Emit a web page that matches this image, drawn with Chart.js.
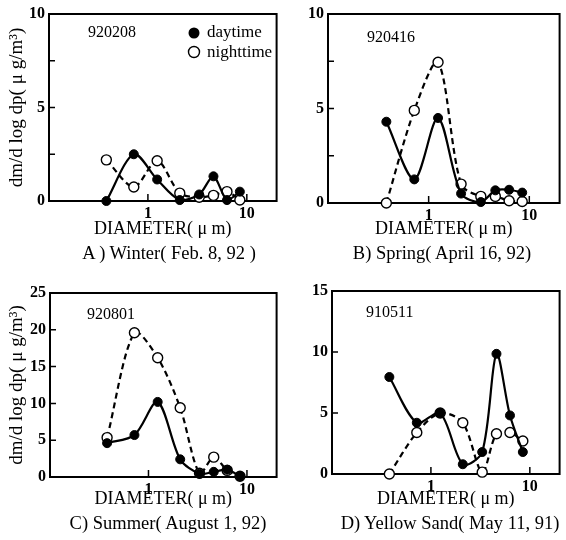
<!DOCTYPE html>
<html><head><meta charset="utf-8">
<script src="https://cdn.jsdelivr.net/npm/chart.js@4"></script>
<style>
body{margin:0;background:#fff;width:566px;height:540px;position:relative;overflow:hidden;font-family:"Liberation Serif",serif;color:#000;}
.panel{position:absolute;width:283px;height:270px;}
.panel canvas{position:absolute;left:0;top:0;}
.cap{position:absolute;width:283px;text-align:center;font-size:18.5px;line-height:20px;top:243px;white-space:pre;}
</style></head><body>
<div class="panel" style="left:0;top:0"><canvas id="c0" width="283" height="270"></canvas><div class="cap" id="cap0"></div></div>
<div class="panel" style="left:283px;top:0"><canvas id="c1" width="283" height="270"></canvas><div class="cap" id="cap1"></div></div>
<div class="panel" style="left:0;top:270px"><canvas id="c2" width="283" height="270"></canvas><div class="cap" id="cap2"></div></div>
<div class="panel" style="left:283px;top:270px"><canvas id="c3" width="283" height="270"></canvas><div class="cap" id="cap3"></div></div>
<script>
// ---- data ----
const diameters = [0.38, 0.72, 1.24, 2.1, 3.3, 4.6, 6.3, 8.5];
const winterDay = [0, 2.5, 1.15, 0.05, 0.35, 1.32, 0.05, 0.5];
const winterNight = [2.2, 0.75, 2.15, 0.42, 0.2, 0.3, 0.5, 0.05];
const springDay = [4.3, 1.25, 4.5, 0.5, 0.05, 0.67, 0.7, 0.55];
const springNight = [0, 4.9, 7.45, 1.0, 0.35, 0.35, 0.12, 0.08];
const summerDay = [4.6, 5.7, 10.2, 2.4, 0.45, 0.7, 1.0, 0.1];
const summerNight = [5.35, 19.6, 16.2, 9.4, 0.5, 2.7, 0.9, 0.1];
const sandDay = [7.95, 4.2, 5.0, 0.8, 1.8, 9.85, 4.8, 1.8];
const sandNight = [0, 3.4, 5.0, 4.2, 0.15, 3.3, 3.4, 2.7];
const sampleIds = ['920208', '920416', '920801', '910511'];
const captions = ['A ) Winter( Feb. 8, 92 )', 'B) Spring( April 16, 92)', 'C) Summer( August 1, 92)', 'D) Yellow Sand( May 11, 91)'];
const seriesNames = ['daytime', 'nighttime'];
const xTickValues = [1, 10];
const yMaxValues = [10, 10, 25, 15];
const yLabelTicks = [[0, 5, 10], [0, 5, 10], [0, 5, 10, 15, 20, 25], [0, 5, 10, 15]];
const yMarkTicks = [[2.5, 5, 7.5], [2.5, 5, 7.5], [5, 10, 15, 20], [5, 10]];
const xTitle = 'DIAMETER( \u03bc m)';
const yTitle = 'dm/d log dp( \u03bc g/m\u00b3)';

// ---- layout (plot box in panel-local pixels) ----
const geom = [
  {left: 49, top: 14, right: 280, bottom: 201, cap: 169, id: [88, 33]},
  {left: 45, top: 14, right: 278, bottom: 203, cap: 159, id: [84, 38]},
  {left: 50, top: 23, right: 279, bottom: 207, cap: 168, id: [87, 45]},
  {left: 49, top: 21, right: 278, bottom: 204, cap: 167, id: [83, 43]}
];
const FAM = '"Liberation Serif", "Times New Roman", serif';
const TITLE_BOTTOM = 240;

function framePlugin(i) {
  return {
    id: 'frame' + i,
    beforeDatasetsDraw(chart) {
      const {ctx, chartArea: a, scales} = chart;
      ctx.save();
      ctx.strokeStyle = '#000';
      ctx.lineWidth = 2;
      ctx.strokeRect(a.left, a.top, a.right - a.left, a.bottom - a.top);
      ctx.lineWidth = 1.5;
      ctx.beginPath();
      yMarkTicks[i].forEach(v => {
        const y = scales.y.getPixelForValue(v);
        ctx.moveTo(a.left, y); ctx.lineTo(a.left + 6, y);
      });
      xTickValues.forEach(v => {
        const x = scales.x.getPixelForValue(v);
        ctx.moveTo(x, a.bottom); ctx.lineTo(x, a.bottom - 7);
      });
      ctx.stroke();
      ctx.fillStyle = '#000';
      ctx.font = '16px ' + FAM;
      ctx.textAlign = 'left';
      ctx.textBaseline = 'middle';
      ctx.fillText(sampleIds[i], geom[i].id[0], geom[i].id[1]);
      if (i === 0) {
        ctx.font = '17px ' + FAM;
        ctx.beginPath(); ctx.arc(194, 33, 5.5, 0, Math.PI * 2); ctx.fill();
        ctx.beginPath(); ctx.arc(194, 52, 5.5, 0, Math.PI * 2);
        ctx.fillStyle = '#fff'; ctx.fill(); ctx.lineWidth = 1.4; ctx.stroke();
        ctx.fillStyle = '#000';
        ctx.fillText(seriesNames[0], 207, 33);
        ctx.fillText(seriesNames[1], 207, 53);
      }
      ctx.restore();
    }
  };
}

function makeChart(i, day, night) {
  const g = geom[i];
  const cap = document.getElementById('cap' + i);
  cap.textContent = captions[i];
  cap.style.left = (g.cap - 141.5) + 'px';
  return new Chart(document.getElementById('c' + i), {
    type: 'line',
    data: {
      datasets: [
        {
          label: seriesNames[0],
          data: diameters.map((x, k) => ({x: x, y: day[k]})),
          borderColor: '#000', backgroundColor: '#000',
          pointBackgroundColor: '#000', pointBorderColor: '#000',
          pointRadius: 4.5, pointBorderWidth: 1, borderWidth: 2.2,
          tension: 0.3, clip: false, fill: false
        },
        {
          label: seriesNames[1],
          data: diameters.map((x, k) => ({x: x, y: night[k]})),
          borderColor: '#000', backgroundColor: '#fff',
          pointBackgroundColor: '#fff', pointBorderColor: '#000',
          pointRadius: 5, pointBorderWidth: 1.4, borderWidth: 2.2,
          borderDash: [6, 4],
          tension: 0.3, clip: false, fill: false
        }
      ]
    },
    options: {
      animation: false, responsive: false, devicePixelRatio: 1,
      events: [],
      layout: {padding: {left: 0, top: g.top, right: 283 - g.right, bottom: 270 - TITLE_BOTTOM}},
      plugins: {legend: {display: false}, tooltip: {enabled: false}, title: {display: false}},
      scales: {
        x: {
          type: 'logarithmic', min: 0.1, max: 20, position: 'bottom',
          afterFit: s => { s.height = TITLE_BOTTOM - g.bottom; },
          afterBuildTicks: s => { s.ticks = xTickValues.map(v => ({value: v})); },
          ticks: {callback: v => String(v), font: {family: FAM, size: 16, weight: 'bold'}, color: '#000', padding: 3, maxRotation: 0, autoSkip: false},
          grid: {display: false, drawTicks: false}, border: {display: false},
          title: {display: true, text: xTitle, font: {family: FAM, size: 18}, color: '#000', padding: 0}
        },
        y: {
          type: 'linear', min: 0, max: yMaxValues[i], position: 'left',
          afterFit: s => { s.width = g.left; },
          afterBuildTicks: s => { s.ticks = yLabelTicks[i].map(v => ({value: v})); },
          ticks: {callback: v => String(v), font: {family: FAM, size: 16, weight: 'bold'}, color: '#000', padding: 4, autoSkip: false},
          grid: {display: false, drawTicks: false}, border: {display: false},
          title: {display: i % 2 === 0, text: yTitle, font: {family: FAM, size: 19}, color: '#000', padding: {top: 6, bottom: 6}}
        }
      }
    },
    plugins: [framePlugin(i)]
  });
}

makeChart(0, winterDay, winterNight);
makeChart(1, springDay, springNight);
makeChart(2, summerDay, summerNight);
makeChart(3, sandDay, sandNight);
</script>
</body></html>
